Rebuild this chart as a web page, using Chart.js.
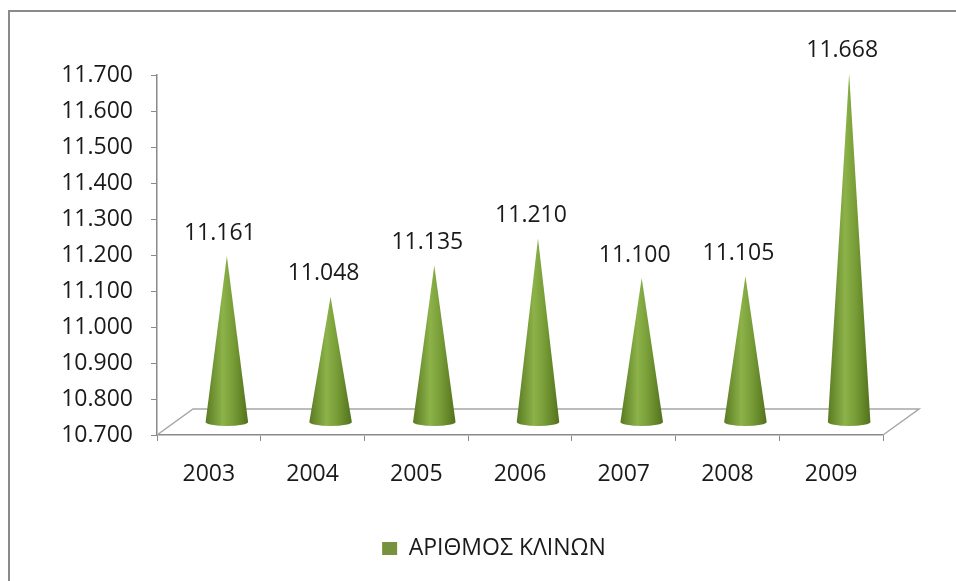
<!DOCTYPE html>
<html>
<head>
<meta charset="utf-8">
<script src="https://cdn.jsdelivr.net/npm/chart.js@4"></script>
<style>
html, body { margin: 0; padding: 0; background: #fff; }
#wrap { width: 956px; height: 581px; }
</style>
</head>
<body>
<div id="wrap"><canvas id="myChart"></canvas></div>
<script>
const years = ['2003', '2004', '2005', '2006', '2007', '2008', '2009'];
const beds = [11161, 11048, 11135, 11210, 11100, 11105, 11668];
const yMin = 10700;
const yMax = 11700;
const yStep = 100;
const seriesName = 'ΑΡΙΘΜΟΣ ΚΛΙΝΩΝ';

const FONT = 'Open Sans';
const DEPTH_X = 36, DEPTH_Y = -26; // floor depth

function fmt(n) {
    return String(Math.round(n)).replace(/\B(?=(\d{3})+(?!\d))/g, '.');
}

// frame + 3d floor
const framePlugin = {
    id: 'frame',
    beforeDraw(chart) {
        const ctx = chart.ctx;
        ctx.save();
        ctx.strokeStyle = '#8a8a8a';
        ctx.lineWidth = 2;
        ctx.strokeRect(9, 11, 1000, 700);
        ctx.restore();
    },
    beforeDatasetsDraw(chart) {
        const a = chart.chartArea;
        const ctx = chart.ctx;
        ctx.save();
        ctx.strokeStyle = '#a6a6a6';
        ctx.lineWidth = 1.5;
        ctx.beginPath();
        ctx.moveTo(a.left, a.bottom);
        ctx.lineTo(a.left + DEPTH_X, a.bottom + DEPTH_Y);
        ctx.lineTo(a.right + DEPTH_X, a.bottom + DEPTH_Y);
        ctx.lineTo(a.right, a.bottom);
        ctx.stroke();
        ctx.restore();
    }
};

// cones instead of flat bars
const conePlugin = {
    id: 'cones',
    beforeDatasetDraw() {
        return false;
    },
    afterDatasetsDraw(chart) {
        const ctx = chart.ctx;
        const xs = chart.scales.x, ys = chart.scales.y;
        const dx = DEPTH_X / 2, dy = DEPTH_Y / 2;
        const r = (xs.width / years.length) * 0.41 / 2;
        beds.forEach((v, i) => {
            const x = xs.getPixelForValue(i) + dx;
            const tip = ys.getPixelForValue(v) + dy;
            const base = ys.getPixelForValue(yMin) + dy;
            const g = ctx.createLinearGradient(x - r, 0, x + r, 0);
            g.addColorStop(0, '#5a7a22');
            g.addColorStop(0.4, '#8cb249');
            g.addColorStop(0.65, '#789d37');
            g.addColorStop(1, '#52711c');
            ctx.save();
            ctx.fillStyle = g;
            ctx.beginPath();
            ctx.moveTo(x - r, base);
            ctx.lineTo(x, tip);
            ctx.lineTo(x + r, base);
            ctx.ellipse(x, base, r, 4, 0, 0, Math.PI, false);
            ctx.closePath();
            ctx.fill();

            ctx.fillStyle = '#1a1a1a';
            ctx.font = '23px "' + FONT + '"';
            ctx.textAlign = 'center';
            ctx.textBaseline = 'middle';
            ctx.fillText(fmt(v), x - 7, tip - 23);
            ctx.restore();
        });
    }
};

const data = {
    labels: years,
    datasets: [
        {
            label: seriesName,
            data: beds,
            backgroundColor: '#76923c',
            borderWidth: 0,
            categoryPercentage: 1,
            barPercentage: 0.41,
        },
    ],
};

const config = {
    type: 'bar',
    data: data,
    options: {
        responsive: true,
        maintainAspectRatio: false,
        animation: false,
        layout: {
            padding: { top: 75, left: 32, right: 0, bottom: 11 },
        },
        plugins: {
            legend: {
                position: 'bottom',
                labels: {
                    boxWidth: 15,
                    boxHeight: 13,
                    padding: 10,
                    color: '#1a1a1a',
                    font: { family: FONT, size: 23 },
                },
            },
            tooltip: { enabled: false },
        },
        scales: {
            y: {
                min: yMin,
                max: yMax,
                ticks: {
                    stepSize: yStep,
                    padding: 18,
                    color: '#1a1a1a',
                    font: { family: FONT, size: 23 },
                    callback: (v) => fmt(v),
                },
                grid: { drawOnChartArea: false, tickLength: 6, color: '#8a8a8a' },
                border: { color: '#8a8a8a', width: 1.5 },
                afterFit: (s) => { s.width = 125; },
            },
            y2: {
                position: 'right',
                display: true,
                ticks: { display: false },
                grid: { display: false },
                border: { display: false },
                afterFit: (s) => { s.width = 73; },
            },
            x: {
                offset: true,
                ticks: {
                    padding: 20,
                    color: '#1a1a1a',
                    font: { family: FONT, size: 23 },
                },
                grid: { drawOnChartArea: false, offset: true, tickLength: 6, color: '#8a8a8a' },
                border: { color: '#8a8a8a', width: 1.5 },
                afterFit: (s) => { s.height = 92; },
            },
        },
    },
    plugins: [framePlugin, conePlugin],
};

const myChart = new Chart(document.getElementById('myChart'), config);
</script>
</body>
</html>
